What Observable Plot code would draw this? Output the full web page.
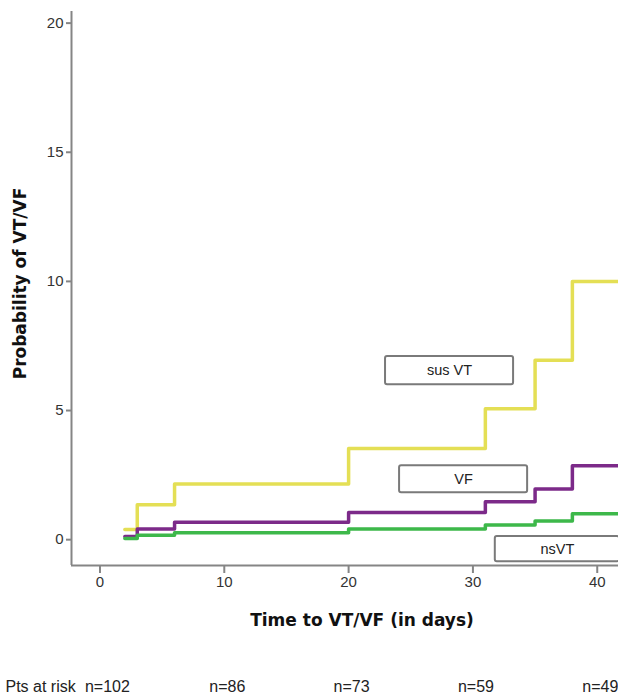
<!DOCTYPE html>
<html><head><meta charset="utf-8">
<script src="https://cdn.jsdelivr.net/npm/d3@7"></script>
<script src="https://cdn.jsdelivr.net/npm/@observablehq/plot@0.6"></script>
<style>
body{margin:0;background:#fff;overflow:hidden}
g[aria-label="x-axis tick label"], g[aria-label="y-axis tick label"] { font-size: 15px; }
</style>
</head><body><div id="chart"></div>
<script>
// Step times (days) and cumulative probability (%) per series
const days  = [2, 3, 6, 20, 31, 35, 38, 42];
const susVT = [0.39, 1.35, 2.16, 3.53, 5.07, 6.95, 10.0, 10.0];
const vf    = [0.12, 0.41, 0.67, 1.05, 1.47, 1.96, 2.86, 2.86];
const nsVT  = [0.05, 0.17, 0.27, 0.41, 0.57, 0.72, 1.00, 1.00];
const seriesNames = ["sus VT", "VF", "nsVT"];
const seriesColors = ["#e4df55", "#7c2a89", "#3db84a"];
const xTicks = [0, 10, 20, 30, 40];
const yTicks = [0, 5, 10, 15, 20];
const riskDays = [0, 10, 20, 30, 40];
const riskN = ["n=102", "n=86", "n=73", "n=59", "n=49"];
const xDomain = [-2.29, 41.71];
const yDomain = [-1.0, 20.45];
// legend-box annotations (data units)
const boxNames = ["sus VT", "VF", "nsVT"];
const boxX1 = [22.97, 24.1, 31.8];
const boxX2 = [33.27, 34.4, 41.8];
const boxY1 = [6.0, 1.82, -0.85];
const boxY2 = [7.09, 2.86, 0.12];

const seriesValues = [susVT, vf, nsVT];
const table = seriesNames.flatMap((s, i) => days.map((d, j) => ({series: s, day: d, p: seriesValues[i][j]})));
const boxes = boxNames.map((n, i) => ({name: n, x1: boxX1[i], x2: boxX2[i], y1: boxY1[i], y2: boxY2[i]}));
const risk = riskDays.map((d, i) => ({day: d, n: riskN[i]}));

const sans = "'Liberation Sans', Arial, sans-serif";
const bold = "'DejaVu Sans', Verdana, sans-serif";
const axisGray = "#858585";

const chart = Plot.plot({
  width: 618,
  height: 697,
  marginLeft: 71,
  marginRight: 0,
  marginTop: 11,
  marginBottom: 132,
  style: {fontFamily: sans, fontSize: "15px", background: "#fff", overflow: "visible"},
  x: {domain: xDomain},
  y: {domain: yDomain},
  color: {domain: seriesNames, range: seriesColors},
  marks: [
    Plot.axisX({ticks: xTicks, tickSize: 8, tickPadding: 3, fontSize: 15, stroke: axisGray, strokeWidth: 2, color: "#333", label: null}),
    Plot.axisY({ticks: yTicks, tickSize: 5, tickPadding: 3, fontSize: 15, stroke: axisGray, strokeWidth: 2, color: "#333", label: null}),
    Plot.ruleY([yDomain[0]], {stroke: axisGray, strokeWidth: 2}),
    Plot.ruleX([xDomain[0]], {stroke: axisGray, strokeWidth: 2}),
    Plot.line(table, {x: "day", y: "p", z: "series", stroke: "series", curve: "step-after", strokeWidth: 3.5, clip: true}),
    Plot.rect(boxes, {x1: "x1", x2: "x2", y1: "y1", y2: "y2", fill: "white", stroke: "#7a7a7a", strokeWidth: 2, rx: 2, clip: true}),
    Plot.text(boxes, {x: d => (d.x1 + d.x2) / 2, y: d => (d.y1 + d.y2) / 2, text: "name", fontSize: 14.5, fontFamily: sans, fill: "#222"}),
    Plot.text(["Time to VT/VF (in days)"], {frameAnchor: "bottom", lineAnchor: "middle", dx: 17, dy: 55, fontSize: 17, fontWeight: "bold", fontFamily: bold, fill: "#111"}),
    Plot.text(["Probability of VT/VF"], {frameAnchor: "left", textAnchor: "middle", lineAnchor: "middle", rotate: -90, dx: -51, dy: -5, fontSize: 17, fontWeight: "bold", fontFamily: bold, fill: "#111"}),
    Plot.text(risk, {x: "day", text: "n", frameAnchor: "bottom", textAnchor: "start", lineAnchor: "middle", dx: -15, dy: 121, fontSize: 16, fontFamily: sans, fill: "#222"}),
    Plot.text(["Pts at risk"], {frameAnchor: "bottom-left", textAnchor: "start", lineAnchor: "middle", dx: -66, dy: 121, fontSize: 16, fontFamily: sans, fill: "#222"})
  ]
});
document.getElementById("chart").appendChild(chart);
</script>
</body></html>
